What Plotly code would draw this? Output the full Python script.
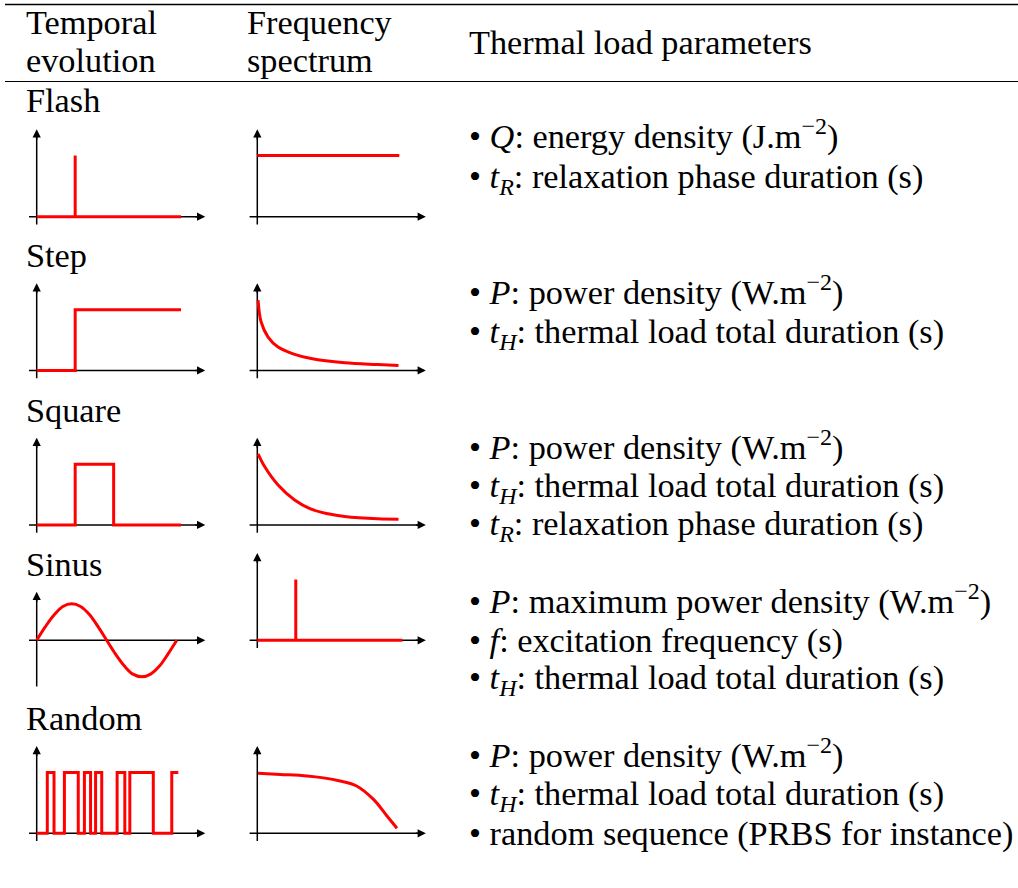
import plotly.graph_objects as go

# ---------------- data (in drawing units) ----------------
row_names = ["Flash", "Step", "Square", "Sinus", "Random"]
header_col1 = ["Temporal", "evolution"]
header_col2 = ["Frequency", "spectrum"]
header_col3 = "Thermal load parameters"

flash_time_x = [0, 1, 1, 1, 3.75]
flash_time_y = [0, 0, 1.59, 0, 0]
flash_freq_x = [0, 3.69]
flash_freq_y = [1.59, 1.59]

step_time_x = [0, 1, 1, 3.75]
step_time_y = [0, 0, 1.58, 1.58]
step_freq_x = [0.02, 0.10, 0.28, 0.54, 0.97, 1.40, 2.27, 3.13, 3.67]
step_freq_y = [1.83, 1.26, 0.87, 0.61, 0.42, 0.31, 0.20, 0.155, 0.13]

square_time_x = [0, 1, 1, 2, 2, 3.75]
square_time_y = [0, 0, 1.58, 1.58, 0, 0]
square_freq_x = [0.02, 0.19, 0.54, 0.97, 1.40, 1.84, 2.27, 3.13, 3.67]
square_freq_y = [1.85, 1.52, 1.04, 0.65, 0.41, 0.29, 0.22, 0.16, 0.15]

sinus_time_x = [0, 0.23, 0.46, 0.68, 0.91, 1.14, 1.37, 1.59, 1.82,
                2.05, 2.28, 2.50, 2.73, 2.96, 3.19, 3.41, 3.64]
sinus_time_y = [0, 0.36, 0.67, 0.88, 0.95, 0.88, 0.67, 0.36, 0,
                -0.36, -0.67, -0.88, -0.95, -0.88, -0.67, -0.36, 0]
sinus_freq_x = [0, 1, 1, 1, 3.77]
sinus_freq_y = [0, 0, 1.58, 0, 0]

random_time_x = [0, 0.275, 0.45, 0.72, 1.08, 1.24, 1.40, 1.53, 1.69,
                 2.09, 2.29, 2.42, 3.03, 3.51, 3.68]
random_time_y = [0, 1.58, 0, 1.58, 0, 1.58, 0, 1.58, 0,
                 1.58, 0, 1.58, 0, 1.58, 1.58]
random_freq_x = [0.02, 0.60, 1.29, 1.72, 2.15, 2.58, 3.02, 3.37, 3.63]
random_freq_y = [1.56, 1.53, 1.49, 1.44, 1.36, 1.23, 0.88, 0.45, 0.13]

bullets = [
    ["<i>Q</i>: energy density (J.m<sup>−2</sup>)",
     "<i>t</i><sub><i>R</i></sub>: relaxation phase duration (s)"],
    ["<i>P</i>: power density (W.m<sup>−2</sup>)",
     "<i>t</i><sub><i>H</i></sub>: thermal load total duration (s)"],
    ["<i>P</i>: power density (W.m<sup>−2</sup>)",
     "<i>t</i><sub><i>H</i></sub>: thermal load total duration (s)",
     "<i>t</i><sub><i>R</i></sub>: relaxation phase duration (s)"],
    ["<i>P</i>: maximum power density (W.m<sup>−2</sup>)",
     "<i>f</i>: excitation frequency (s)",
     "<i>t</i><sub><i>H</i></sub>: thermal load total duration (s)"],
    ["<i>P</i>: power density (W.m<sup>−2</sup>)",
     "<i>t</i><sub><i>H</i></sub>: thermal load total duration (s)",
     "random sequence (PRBS for instance)"],
]

# ---------------- layout geometry (pixels, reference-image coordinates) ----------------
W, H = 1018, 888
U = 38.48  # pixels per drawing unit
FONT = "Liberation Serif"
FS = 34.3
RED = "#ff0000"

row_label_y = [100, 255, 410, 564, 718]
row_origin_y = [216.7, 370.5, 525.0, 640.3, 833.3]
bullet_y = [[139, 178], [295, 333], [449, 487, 525], [603, 641, 679], [757, 795, 834]]
col_origin_x = [36.7, 257.3]

panels = [
    (flash_time_x, flash_time_y, "linear"), (flash_freq_x, flash_freq_y, "linear"),
    (step_time_x, step_time_y, "linear"), (step_freq_x, step_freq_y, "spline"),
    (square_time_x, square_time_y, "linear"), (square_freq_x, square_freq_y, "spline"),
    (sinus_time_x, sinus_time_y, "spline"), (sinus_freq_x, sinus_freq_y, "linear"),
    (random_time_x, random_time_y, "hv"), (random_freq_x, random_freq_y, "spline"),
]


def px(x):
    return x / W


def py(y):
    return 1 - y / H


fig = go.Figure()
layout = dict(width=W, height=H, margin=dict(l=0, r=0, t=0, b=0),
              paper_bgcolor="white", plot_bgcolor="white", showlegend=False)
annotations = []
shapes = []

XR = (-0.3, 4.5)
for i, (xs, ys, shp) in enumerate(panels):
    row, col = divmod(i, 2)
    n = i + 1
    sfx = "" if n == 1 else str(n)
    ox = col_origin_x[col]
    oy = row_origin_y[row]
    sinus_t = (row == 3 and col == 0)
    yr = (-1.3, 1.4) if sinus_t else (-0.3, 2.4)
    x0 = px(ox + XR[0] * U)
    x1 = px(ox + XR[1] * U)
    y0 = py(oy - yr[0] * U)
    y1 = py(oy - yr[1] * U)
    layout["xaxis" + sfx] = dict(domain=[x0, x1], range=list(XR), visible=False,
                                 fixedrange=True, anchor="y" + sfx)
    layout["yaxis" + sfx] = dict(domain=[y0, y1], range=list(yr), visible=False,
                                 fixedrange=True, anchor="x" + sfx)
    xa, ya = "x" + sfx, "y" + sfx
    # axes (black)
    ybot, ytop = (-1.2, 1.26) if sinus_t else (-0.2, 2.27)
    xleft, xright = -0.2, 4.38
    fig.add_trace(go.Scatter(x=[xleft, xright - 0.12], y=[0, 0], mode="lines",
                             line=dict(color="black", width=1.5), xaxis=xa, yaxis=ya,
                             hoverinfo="skip"))
    fig.add_trace(go.Scatter(x=[0, 0], y=[ybot, ytop - 0.12], mode="lines",
                             line=dict(color="black", width=1.5), xaxis=xa, yaxis=ya,
                             hoverinfo="skip"))
    annotations.append(dict(x=xright, y=0, ax=xright - 0.3, ay=0, xref=xa, yref=ya,
                            axref=xa, ayref=ya, text="", showarrow=True, arrowhead=2,
                            arrowsize=1.1, arrowwidth=1.5, arrowcolor="black", standoff=0))
    annotations.append(dict(x=0, y=ytop, ax=0, ay=ytop - 0.3, xref=xa, yref=ya,
                            axref=xa, ayref=ya, text="", showarrow=True, arrowhead=2,
                            arrowsize=1.1, arrowwidth=1.5, arrowcolor="black", standoff=0))
    # red curve
    line = dict(color=RED, width=3, shape=shp)
    if shp == "spline":
        line["smoothing"] = 1.0
    fig.add_trace(go.Scatter(x=xs, y=ys, mode="lines", line=line,
                             xaxis=xa, yaxis=ya, hoverinfo="skip"))


def txt(x, y, s, anchor="left"):
    annotations.append(dict(x=px(x), y=py(y), xref="paper", yref="paper", text=s,
                            showarrow=False, xanchor=anchor, yanchor="middle",
                            font=dict(family=FONT, size=FS, color="black")))


# header
txt(24, 22, header_col1[0])
txt(24, 60, header_col1[1])
txt(245, 22, header_col2[0])
txt(245, 60, header_col2[1])
txt(467, 42, header_col3)

for r, name in enumerate(row_names):
    txt(24, row_label_y[r], name)
    for b, s in enumerate(bullets[r]):
        yy = bullet_y[r][b]
        if "<sup>" in s:
            yy -= 4
        elif "<sub>" not in s:
            yy -= 1
        txt(467, yy, "• " + s)

# table rules
shapes.append(dict(type="line", xref="paper", yref="paper", x0=px(5), x1=1,
                   y0=py(4.5), y1=py(4.5), line=dict(color="black", width=1.6)))
shapes.append(dict(type="line", xref="paper", yref="paper", x0=px(5), x1=1,
                   y0=py(81.5), y1=py(81.5), line=dict(color="black", width=1.0)))

layout["annotations"] = annotations
layout["shapes"] = shapes
layout["font"] = dict(family=FONT)
fig.update_layout(**layout)
fig.write_html("out.html", post_script="document.body.style.margin='0';",
               config={"displayModeBar": False})
